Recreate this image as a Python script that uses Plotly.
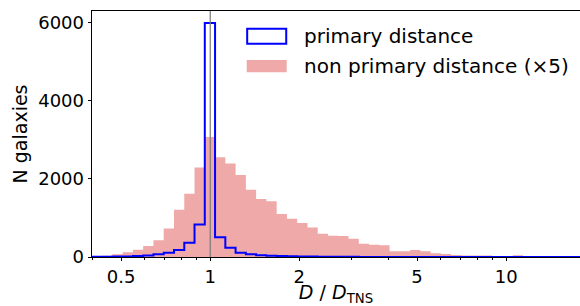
import numpy as np
import plotly.graph_objects as go

# ---- data ----
# log10 bin edges of the histogram (49 log-spaced bins from 10^-0.4 to 10^1.3)
bin_edges_log = np.linspace(-0.4, 1.3, 50)

# primary distance counts per bin
primary_counts = [5, 8, 10, 15, 25, 40, 68, 110, 179, 365, 835, 5990, 503, 238, 110, 68,
                  43, 35, 25, 18, 14, 10, 8, 6, 5, 4, 3, 3, 2, 2, 2, 1, 1, 1, 1, 1,
                  0, 0, 0, 0, 0, 0, 0, 0, 0, 0, 0, 0, 0]

# non primary distance counts per bin (already multiplied by 5)
nonprimary_counts_x5 = [25, 35, 70, 120, 187, 280, 426, 733, 1208, 1617, 2290, 3071, 2555,
                        2392, 2100, 1722, 1485, 1430, 1102, 978, 868, 758, 595, 545, 540,
                        468, 340, 315, 298, 145, 145, 178, 145, 98, 75, 50, 40, 38, 40, 17,
                        17, 43, 15, 8, 5, 5, 3, 2, 2]

reference_ratio = 1.0
x_tick_vals = [0.5, 1, 2, 5, 10]
x_tick_text = ["0.5", "1", "2", "5", "10"]
x_minor_vals = [0.4, 0.6, 0.7, 0.8, 0.9, 3, 4, 6, 7, 8, 9]
y_tick_vals = [0, 2000, 4000, 6000]
y_tick_text = ["0", "2000", "4000", "6000"]
legend_labels = ["primary distance", "non primary distance (×5)"]

# ---- build step outlines ----
edges = (10 ** bin_edges_log).tolist()


def step_xy(counts):
    xs = [edges[0]] + edges + [edges[-1]]
    ys = [0] + list(counts) + [counts[-1], 0]
    return xs, ys


FONT = "DejaVu Sans"
BLUE = "rgb(0,0,255)"
PINK = "rgb(239,169,169)"

fig = go.Figure()

px_, py_ = step_xy(nonprimary_counts_x5)
fig.add_trace(go.Scatter(x=px_, y=py_, mode="lines", line=dict(width=0, shape="hv"),
                         fill="tozeroy", fillcolor=PINK, name=legend_labels[1],
                         showlegend=False, hoverinfo="skip"))

bx, by = step_xy(primary_counts)
fig.add_trace(go.Scatter(x=bx, y=by, mode="lines", line=dict(width=2, color=BLUE, shape="hv"),
                         name=legend_labels[0], showlegend=False, hoverinfo="skip"))

fig.add_vline(x=reference_ratio, line=dict(color="rgb(120,120,120)", width=1.2), layer="above")

# ---- manual legend (matplotlib style boxes) ----
fig.add_shape(type="rect", xref="paper", yref="paper", x0=0.318, x1=0.398, y0=0.867, y1=0.928,
              line=dict(color=BLUE, width=2), fillcolor="rgba(0,0,0,0)")
fig.add_shape(type="rect", xref="paper", yref="paper", x0=0.317, x1=0.399, y0=0.751, y1=0.801,
              line=dict(width=0), fillcolor=PINK)
fig.add_annotation(xref="paper", yref="paper", x=0.430, y=0.899, xanchor="left", yanchor="middle",
                   text=legend_labels[0], showarrow=False, font=dict(family=FONT, size=20, color="black"))
fig.add_annotation(xref="paper", yref="paper", x=0.430, y=0.778, xanchor="left", yanchor="middle",
                   text=legend_labels[1], showarrow=False, font=dict(family=FONT, size=20, color="black"))

fig.update_layout(
    width=580, height=306,
    margin=dict(l=92, r=0, t=11, b=49, autoexpand=False),
    paper_bgcolor="white", plot_bgcolor="white",
    font=dict(family=FONT, size=18, color="black"),
    showlegend=False,
)
fig.update_xaxes(
    type="log", range=[-0.3995, 1.2495], automargin=False,
    tickmode="array", tickvals=x_tick_vals, ticktext=x_tick_text,
    ticks="outside", ticklen=3.5, tickwidth=0.8, tickcolor="black",
    minor=dict(tickvals=x_minor_vals, ticks="outside", ticklen=2, tickwidth=0.6, tickcolor="black"),
    showline=True, linecolor="black", linewidth=0.8, mirror=True,
    showgrid=False, zeroline=False,
    tickfont=dict(size=18),
    title=dict(text="<i>D</i> / <i>D</i><sub>TNS</sub>", font=dict(size=19), standoff=2),
)
fig.update_yaxes(
    range=[0, 6300], automargin=False,
    tickmode="array", tickvals=y_tick_vals, ticktext=y_tick_text,
    ticks="outside", ticklen=3.5, tickwidth=0.8, tickcolor="black",
    showline=True, linecolor="black", linewidth=0.8,
    showgrid=False, zeroline=False,
    tickfont=dict(size=18),
    title=dict(text="N galaxies", font=dict(size=19), standoff=5),
)

fig.write_html("out.html", config={"displayModeBar": False},
               post_script="document.body.style.margin='0';document.body.style.overflow='hidden';")
